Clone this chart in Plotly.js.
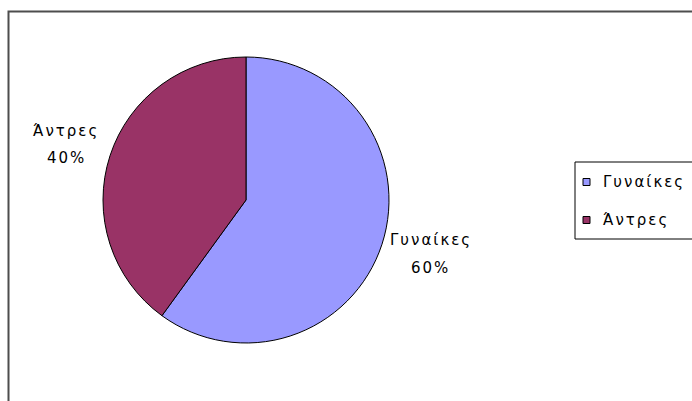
<!DOCTYPE html>
<html>
<head>
<meta charset="utf-8">
<script src="https://cdn.plot.ly/plotly-3.0.1.min.js"></script>
<style>
  html, body { margin: 0; padding: 0; background: #ffffff; }
  #chart { width: 692px; height: 401px; }
  .annotation-text { letter-spacing: 2px; }
</style>
</head>
<body>
<div id="chart"></div>
<script>
// ---- data ----
const labels = ['Γυναίκες', 'Άντρες'];
const values = [60, 40];
const colors = ['#9999FF', '#993366'];

// ---- helpers ----
const W = 692, H = 401;
const px = x => x / W;
const py = y => 1 - y / H;
const total = values.reduce((a, b) => a + b, 0);
const pct = values.map(v => Math.round(v / total * 100) + '%');

const font = { family: 'DejaVu Sans, Verdana, sans-serif', size: 15, color: '#000000' };

// pie geometry (pixels)
const cx = 246, cy = 200, r = 143;

const trace = {
  type: 'pie',
  labels: labels,
  values: values,
  sort: false,
  direction: 'clockwise',
  rotation: 0,
  textinfo: 'none',
  hoverinfo: 'none',
  showlegend: false,
  marker: { colors: colors, line: { color: '#000000', width: 1 } },
  domain: { x: [px(cx - r), px(cx + r)], y: [py(cy + r), py(cy - r)] }
};

// slice label positions (pixels): [x center, y line1, y line2]
const labelPos = [[431, 240, 268], [66, 131, 158]];

const annotations = [];
labels.forEach((lab, i) => {
  const p = labelPos[i];
  annotations.push({ xref: 'paper', yref: 'paper', x: px(p[0]), y: py(p[1]), text: lab,
    showarrow: false, xanchor: 'center', yanchor: 'middle', font: font });
  annotations.push({ xref: 'paper', yref: 'paper', x: px(p[0]), y: py(p[2]), text: pct[i],
    showarrow: false, xanchor: 'center', yanchor: 'middle', font: font });
});

// manual legend
const legX0 = 575, legY0 = 162, legY1 = 239;
const rowY = [182, 220];
const shapes = [
  // outer chart frame
  { type: 'rect', xref: 'paper', yref: 'paper', x0: px(8.5), x1: px(720), y0: py(11.5), y1: py(430),
    line: { color: '#4d4d4d', width: 2 }, fillcolor: 'rgba(0,0,0,0)' },
  // legend box
  { type: 'rect', xref: 'paper', yref: 'paper', x0: px(legX0), x1: px(720), y0: py(legY0), y1: py(legY1),
    line: { color: '#000000', width: 1 }, fillcolor: '#ffffff' }
];
labels.forEach((lab, i) => {
  shapes.push({ type: 'rect', xref: 'paper', yref: 'paper',
    x0: px(583), x1: px(590), y0: py(rowY[i] - 3.5), y1: py(rowY[i] + 3.5),
    line: { color: '#000000', width: 1 }, fillcolor: colors[i] });
  annotations.push({ xref: 'paper', yref: 'paper', x: px(601), y: py(rowY[i]), text: lab,
    showarrow: false, xanchor: 'left', yanchor: 'middle', font: font });
});

const layout = {
  width: W, height: H,
  margin: { l: 0, r: 0, t: 0, b: 0 },
  paper_bgcolor: '#ffffff',
  plot_bgcolor: '#ffffff',
  showlegend: false,
  shapes: shapes,
  annotations: annotations
};

Plotly.newPlot('chart', [trace], layout, { staticPlot: true, displayModeBar: false });
</script>
</body>
</html>
